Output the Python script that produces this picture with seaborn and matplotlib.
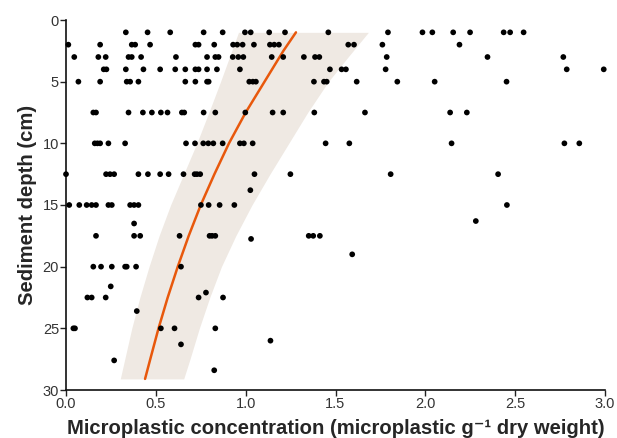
import numpy as np
import pandas as pd
import matplotlib
matplotlib.use("Agg")
import matplotlib.pyplot as plt
import seaborn as sns

# ---- data ----
# concentrations (microplastic g^-1) at each sampled depth row (cm)
depth_1 = [0.333, 0.454, 0.580, 0.766, 0.872, 0.996, 1.028, 1.131, 1.219, 1.46,
           1.792, 1.984, 2.039, 2.155, 2.249, 2.436, 2.472, 2.547]
depth_2 = [0.013, 0.19, 0.366, 0.385, 0.468, 0.72, 0.738, 0.825, 0.93, 0.953,
           0.983, 1.046, 1.135, 1.159, 1.185, 1.571, 1.603, 1.761, 2.19]
depth_3 = [0.046, 0.18, 0.221, 0.348, 0.366, 0.418, 0.612, 0.785, 0.831, 0.849,
           0.928, 0.959, 0.987, 1.145, 1.209, 1.324, 1.386, 1.41, 1.785, 2.346, 2.768]
depth_4 = [0.21, 0.225, 0.333, 0.431, 0.524, 0.608, 0.664, 0.72, 0.738, 0.785,
           0.840, 0.968, 1.469, 1.534, 1.558, 1.779, 2.787, 2.993]
depth_5 = [0.069, 0.19, 0.338, 0.357, 0.403, 0.664, 0.72, 0.785, 0.794, 1.02,
           1.04, 1.057, 1.38, 1.436, 1.451, 1.618, 1.844, 2.052, 2.452]
depth_7_5 = [0.152, 0.167, 0.348, 0.428, 0.478, 0.528, 0.565, 0.645, 0.658, 0.766,
             0.831, 0.998, 1.15, 1.209, 1.382, 1.664, 2.138, 2.231]
depth_10 = [0.16, 0.175, 0.19, 0.236, 0.329, 0.668, 0.718, 0.764, 0.792, 0.82,
            0.872, 0.968, 0.99, 1.039, 1.445, 1.577, 2.146, 2.774, 2.857]
depth_12_5 = [0.0, 0.223, 0.245, 0.268, 0.403, 0.456, 0.524, 0.571, 0.654, 0.716,
              0.729, 0.747, 1.049, 1.249, 1.807, 2.405]
depth_15 = [0.018, 0.074, 0.115, 0.143, 0.167, 0.236, 0.255, 0.357, 0.379, 0.403,
            0.751, 0.794, 0.855, 0.937, 2.454]
depth_17_5 = [0.167, 0.379, 0.413, 0.632, 0.799, 0.813, 0.831, 1.351, 1.376, 1.413]
depth_20 = [0.152, 0.195, 0.255, 0.329, 0.338, 0.39, 0.64]
depth_22_5 = [0.119, 0.143, 0.221, 0.738, 0.874]
depth_25 = [0.041, 0.05, 0.528, 0.604, 0.831]
# isolated samples at other depths
other_conc = [1.026, 0.379, 2.281, 1.03, 1.593, 0.249, 0.779, 0.394, 1.138, 0.64, 0.268, 0.825]
other_depth = [13.8, 16.5, 16.3, 17.75, 19.0, 21.6, 22.1, 23.6, 26.0, 26.3, 27.6, 28.4]

row_depths = [1, 2, 3, 4, 5, 7.5, 10, 12.5, 15, 17.5, 20, 22.5, 25]
row_values = [depth_1, depth_2, depth_3, depth_4, depth_5, depth_7_5, depth_10,
              depth_12_5, depth_15, depth_17_5, depth_20, depth_22_5, depth_25]

# fitted trend and its confidence band
fit_depth = [1, 2.5, 5, 7.5, 10, 12.5, 15, 17.5, 20, 22.5, 25, 27.5, 29.1]
fit_conc = [1.28, 1.21, 1.105, 1.0, 0.907, 0.826, 0.75, 0.683, 0.622, 0.566, 0.515, 0.469, 0.44]
band_depth = [1, 3, 5, 7.5, 10, 12.5, 15, 17.5, 20, 22.5, 25, 27.5, 29.1]
band_low = [0.96, 0.91, 0.86, 0.795, 0.728, 0.655, 0.582, 0.518, 0.462, 0.411, 0.366, 0.327, 0.302]
band_high = [1.683, 1.57, 1.46, 1.345, 1.24, 1.135, 1.035, 0.945, 0.865, 0.80, 0.742, 0.69, 0.655]

x_ticks = [0.0, 0.5, 1.0, 1.5, 2.0, 2.5, 3.0]
y_ticks = [0, 5, 10, 15, 20, 25, 30]

# ---- build tables ----
conc, dep = [], []
for d, vals in zip(row_depths, row_values):
    conc += vals
    dep += [d] * len(vals)
conc += other_conc
dep += other_depth
points = pd.DataFrame({"conc": conc, "depth": dep})
fit = pd.DataFrame({"conc": fit_conc, "depth": fit_depth})

# ---- plot ----
sns.set_style("ticks")
plt.rcParams["font.family"] = ["Liberation Sans", "DejaVu Sans"]

fig = plt.figure(figsize=(6.17, 4.38), dpi=100)
ax = fig.add_axes([66 / 617, 1 - 390 / 438, (605 - 66) / 617, (390 - 20) / 438])

ax.fill_betweenx(band_depth, band_low, band_high, color="#efe9e3", lw=0, zorder=1)
sns.scatterplot(data=points, x="conc", y="depth", ax=ax, color="black", s=17,
                edgecolor="none", zorder=3, clip_on=False)
sns.lineplot(data=fit, x="conc", y="depth", ax=ax, sort=False, color="#e8580c",
             lw=1.8, zorder=2, estimator=None)

ax.set_xlim(0, 3.0)
ax.set_ylim(30, 0)
ax.set_xticks(x_ticks)
ax.set_xticklabels([f"{t:.1f}" for t in x_ticks])
ax.set_yticks(y_ticks)
ax.set_yticklabels([str(t) for t in y_ticks])
ax.tick_params(axis="both", direction="out", length=4, width=1, color="#222222",
               labelsize=10.5, labelcolor="#333333", pad=1)
for s in ["left", "bottom"]:
    ax.spines[s].set_linewidth(1.2)
    ax.spines[s].set_color("#111111")
sns.despine(ax=ax)

ax.set_xlabel("Microplastic concentration (microplastic g\u207b\u00b9 dry weight)",
              fontsize=14.6, fontweight="bold", labelpad=6)
ax.set_ylabel("Sediment depth (cm)", fontsize=14.6, fontweight="bold", labelpad=4)

fig.savefig("out.png", dpi=100)
